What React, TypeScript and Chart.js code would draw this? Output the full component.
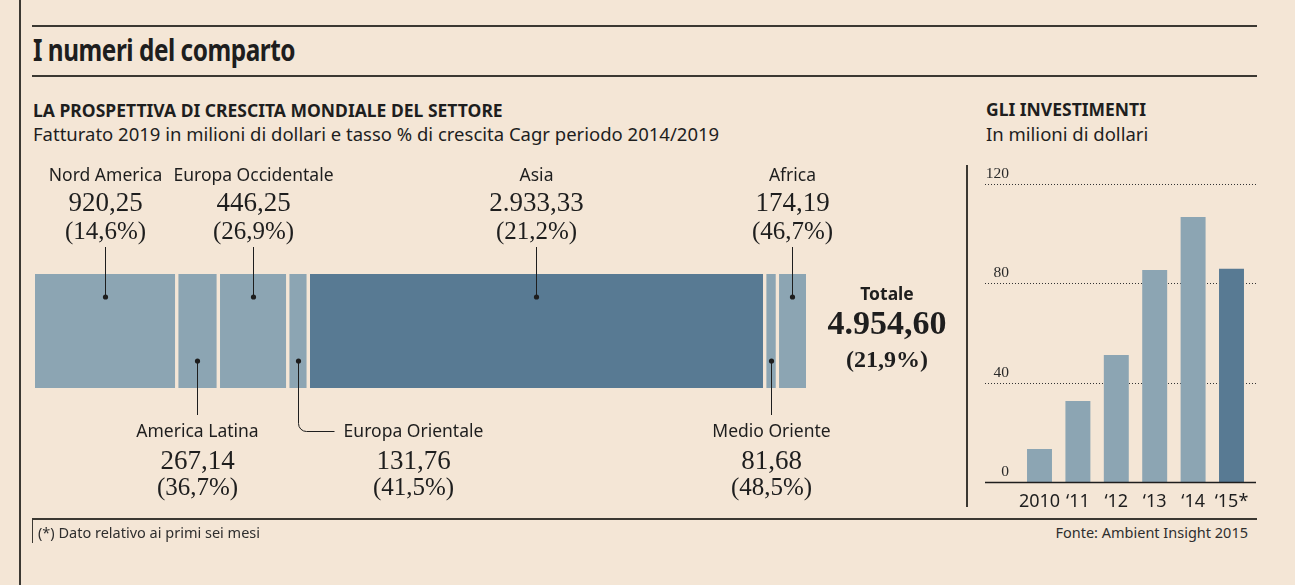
import React, { useEffect, useRef } from "react";
import { Chart, registerables } from "chart.js";

Chart.register(...registerables);

// ---------- DATA ----------
const regions = [
  "Nord America",
  "America Latina",
  "Europa Occidentale",
  "Europa Orientale",
  "Asia",
  "Medio Oriente",
  "Africa",
];
const revenue2019 = [920.25, 267.14, 446.25, 131.76, 2933.33, 81.68, 174.19];
const cagr = [14.6, 36.7, 26.9, 41.5, 21.2, 48.5, 46.7];
const totalCagr = 21.9;
const labelSide = ["top", "bottom", "top", "bottom", "top", "bottom", "top"];
const labelShift = [0, 0, 0, 115, 0, 0, 0];

const years = ["2010", "\u201811", "\u201812", "\u201813", "\u201814", "\u201815*"];
const investments = [13.3, 32.6, 51.1, 85.4, 106.7, 85.9];
const yTicks = [0, 40, 80, 120];

// ---------- STYLE ----------
const BG = "#f4e6d6";
const LIGHT = "#8ca5b3";
const DARK = "#587a93";
const INK = "#1e1e1e";
const LINE = "#3b3832";
const SANS = '"Noto Sans", "Open Sans", sans-serif';
const SERIF = '"Liberation Serif", "DejaVu Serif", serif';

function fmtNum(v: number, d = 2) {
  const [i, f] = v.toFixed(d).split(".");
  const ii = i.replace(/\B(?=(\d{3})+(?!\d))/g, ".");
  return f ? ii + "," + f : ii;
}
const fmtPct = (v: number) => "(" + v.toFixed(1).replace(".", ",") + "%)";

const total = revenue2019.reduce((a, b) => a + b, 0);
const maxRev = Math.max(...revenue2019);
const GAP = 3.5;

const marimekkoLabels = {
  id: "marimekkoLabels",
  afterDatasetsDraw(chart: any) {
    const ctx = chart.ctx as CanvasRenderingContext2D;
    const ca = chart.chartArea;
    const n = regions.length;
    ctx.save();
    ctx.fillStyle = INK;
    ctx.strokeStyle = INK;
    ctx.lineWidth = 1;
    ctx.textAlign = "center";
    ctx.textBaseline = "alphabetic";
    regions.forEach((name, i) => {
      const el = chart.getDatasetMeta(i).data[0];
      const p = el.getProps(["x", "base"], true);
      const gap = i < n - 1 ? GAP : 0;
      const cx = Math.round((Math.min(p.x, p.base) + Math.max(p.x, p.base) - gap) / 2) + 0.5;
      const drawTexts = (lx: number, y0: number, y1: number, y2: number) => {
        ctx.font = `17.5px ${SANS}`;
        ctx.fillText(name, lx, y0);
        ctx.font = `27px ${SERIF}`;
        ctx.fillText(fmtNum(revenue2019[i]), lx, y1);
        ctx.font = `25px ${SERIF}`;
        ctx.fillText(fmtPct(cagr[i]), lx, y2);
      };
      if (labelSide[i] === "top") {
        const dy = ca.top + 23;
        ctx.beginPath();
        ctx.moveTo(cx, ca.top - 27);
        ctx.lineTo(cx, dy);
        ctx.stroke();
        ctx.beginPath();
        ctx.arc(cx, dy, 2.6, 0, Math.PI * 2);
        ctx.fill();
        drawTexts(cx, ca.top - 93, ca.top - 63, ca.top - 35);
      } else {
        const dy = ca.bottom - 27;
        ctx.beginPath();
        ctx.arc(cx, dy, 2.6, 0, Math.PI * 2);
        ctx.fill();
        ctx.beginPath();
        ctx.moveTo(cx, dy);
        let lx = cx;
        if (labelShift[i]) {
          const hy = ca.bottom + 43.5;
          ctx.lineTo(cx, hy - 8);
          ctx.arcTo(cx, hy, cx + 8, hy, 8);
          ctx.lineTo(cx + 36, hy);
          lx = cx + labelShift[i];
        } else {
          ctx.lineTo(cx, ca.bottom + 27);
        }
        ctx.stroke();
        drawTexts(lx, ca.bottom + 49, ca.bottom + 81, ca.bottom + 107);
      }
    });
    // total
    const tx = ca.right + 81;
    ctx.font = `bold 17.5px ${SANS}`;
    ctx.fillText("Totale", tx, ca.top + 26);
    ctx.font = `bold 34px ${SERIF}`;
    ctx.fillText(fmtNum(total), tx, ca.top + 60);
    ctx.font = `bold 24px ${SERIF}`;
    ctx.fillText(fmtPct(totalCagr), tx, ca.top + 93);
    ctx.restore();
  },
};

const investAxes = {
  id: "investAxes",
  beforeDatasetsDraw(chart: any) {
    const ctx = chart.ctx as CanvasRenderingContext2D;
    const ca = chart.chartArea;
    const y = chart.scales.y;
    const x0 = ca.left - 35.3;
    const x1 = ca.right + 5.3;
    ctx.save();
    ctx.fillStyle = "#2a2a2a";
    ctx.font = `15.5px ${SERIF}`;
    ctx.textAlign = "right";
    yTicks.forEach((t) => {
      const py = Math.round(y.getPixelForValue(t)) + 0.5;
      if (t !== 0) {
        ctx.strokeStyle = "#333";
        ctx.lineWidth = 1;
        ctx.setLineDash([1, 2]);
        ctx.beginPath();
        ctx.moveTo(x0, py);
        ctx.lineTo(x1, py);
        ctx.stroke();
      }
      ctx.fillText(String(t), ca.left - 11.3, py - 7);
    });
    ctx.restore();
  },
  afterDatasetsDraw(chart: any) {
    const ctx = chart.ctx as CanvasRenderingContext2D;
    const ca = chart.chartArea;
    const y = chart.scales.y;
    const xs = chart.scales.x;
    const py = Math.round(y.getPixelForValue(0)) + 0.5;
    ctx.save();
    ctx.strokeStyle = INK;
    ctx.lineWidth = 1.5;
    ctx.beginPath();
    ctx.moveTo(ca.left - 35.3, py);
    ctx.lineTo(ca.right + 5.3, py);
    ctx.stroke();
    ctx.fillStyle = INK;
    ctx.font = `18px ${SANS}`;
    ctx.textAlign = "center";
    years.forEach((yr, i) => {
      ctx.fillText(yr, xs.getPixelForValue(i), ca.bottom + 25);
    });
    ctx.restore();
  },
};

type TP = {
  x: number;
  b: number;
  size: number;
  fam?: string;
  k?: number;
  weight?: number | string;
  right?: boolean;
  color?: string;
  ls?: number;
  fitW?: number;
  children: React.ReactNode;
};
function T({ x, b, size, fam = SANS, k = 0.888, weight = 400, right, color = INK, ls = 0, fitW, children }: TP) {
  const ref = useRef<HTMLDivElement>(null);
  useEffect(() => {
    if (!fitW || !ref.current) return;
    const el = ref.current;
    el.style.transform = "none";
    const w = el.getBoundingClientRect().width;
    if (w > 0) el.style.transform = `scaleX(${fitW / w})`;
  }, [fitW]);
  const style: React.CSSProperties = {
    position: "absolute",
    top: b - size * k,
    fontSize: size,
    lineHeight: "1",
    fontFamily: fam,
    fontWeight: weight as any,
    whiteSpace: "nowrap",
    color,
    letterSpacing: ls,
    transformOrigin: "left center",
  };
  if (right) style.right = 1295 - x;
  else style.left = x;
  return (
    <div ref={ref} style={style}>
      {children}
    </div>
  );
}

function Rule({ x, y, w, h, c = LINE }: { x: number; y: number; w: number; h: number; c?: string }) {
  return <div style={{ position: "absolute", left: x, top: y, width: w, height: h, background: c }} />;
}

export default function App() {
  const leftRef = useRef<HTMLCanvasElement>(null);
  const rightRef = useRef<HTMLCanvasElement>(null);

  useEffect(() => {
    document.body.style.background = BG;
    const n = regions.length;
    const c1 = new Chart(leftRef.current!, {
      type: "bar",
      data: {
        labels: ["2019"],
        datasets: regions.map((r, i) => ({
          label: r,
          data: [revenue2019[i]],
          backgroundColor: revenue2019[i] === maxRev ? DARK : LIGHT,
          borderColor: BG,
          borderWidth: { top: 0, bottom: 0, left: 0, right: i < n - 1 ? GAP : 0 },
          borderSkipped: false,
          barPercentage: 1,
          categoryPercentage: 1,
        })),
      },
      options: {
        indexAxis: "y",
        animation: false,
        responsive: true,
        maintainAspectRatio: false,
        layout: { padding: { left: 15, right: 154, top: 124, bottom: 127 } },
        scales: {
          x: { type: "linear", stacked: true, min: 0, max: total, display: false },
          y: { stacked: true, display: false },
        },
        plugins: { legend: { display: false }, tooltip: { enabled: false } },
      },
      plugins: [marimekkoLabels],
    } as any);

    const c2 = new Chart(rightRef.current!, {
      type: "bar",
      data: {
        labels: years,
        datasets: [
          {
            label: "Investimenti",
            data: investments,
            backgroundColor: years.map((_, i) => (i === years.length - 1 ? DARK : LIGHT)),
            barPercentage: 0.65,
            categoryPercentage: 1,
          },
        ],
      },
      options: {
        animation: false,
        responsive: true,
        maintainAspectRatio: false,
        layout: { padding: { left: 45.3, right: 14.3, top: 29, bottom: 38 } },
        scales: {
          x: { display: false },
          y: { display: false, min: 0, max: 120 },
        },
        plugins: { legend: { display: false }, tooltip: { enabled: false } },
      },
      plugins: [investAxes],
    } as any);

    return () => {
      c1.destroy();
      c2.destroy();
    };
  }, []);

  return (
    <div
      style={{
        position: "absolute",
        left: 0,
        top: 0,
        width: 1295,
        height: 585,
        background: BG,
        overflow: "hidden",
        color: INK,
      }}
    >
      <Rule x={19} y={0} w={2} h={585} />
      <Rule x={32} y={25} w={1225} h={2} />
      <T x={33} b={62} size={31} weight={700} ls={-0.6} fitW={262}>
        I numeri del comparto
      </T>
      <Rule x={32} y={75} w={1225} h={2} />

      <T x={33} b={118} size={17.5} weight={700}>
        LA PROSPETTIVA DI CRESCITA MONDIALE DEL SETTORE
      </T>
      <T x={33} b={141} size={18.5}>
        Fatturato 2019 in milioni di dollari e tasso % di crescita Cagr periodo 2014/2019
      </T>

      <T x={986} b={117} size={17.5} weight={700}>
        GLI INVESTIMENTI
      </T>
      <T x={986} b={141} size={18.5}>
        In milioni di dollari
      </T>

      <Rule x={966} y={165} w={1.5} h={342} />

      <div style={{ position: "absolute", left: 20, top: 150, width: 940, height: 365 }}>
        <canvas ref={leftRef} />
      </div>
      <div style={{ position: "absolute", left: 975, top: 155, width: 290, height: 365 }}>
        <canvas ref={rightRef} />
      </div>

      <Rule x={32} y={518} w={1225} h={2} />
      <Rule x={32} y={519} w={1} h={24} />
      <T x={38} b={538} size={14.5} color="#2e2e2e">
        (*) Dato relativo ai primi sei mesi
      </T>
      <T x={1248} b={538} size={14.5} right color="#2e2e2e">
        Fonte: Ambient Insight 2015
      </T>
    </div>
  );
}
